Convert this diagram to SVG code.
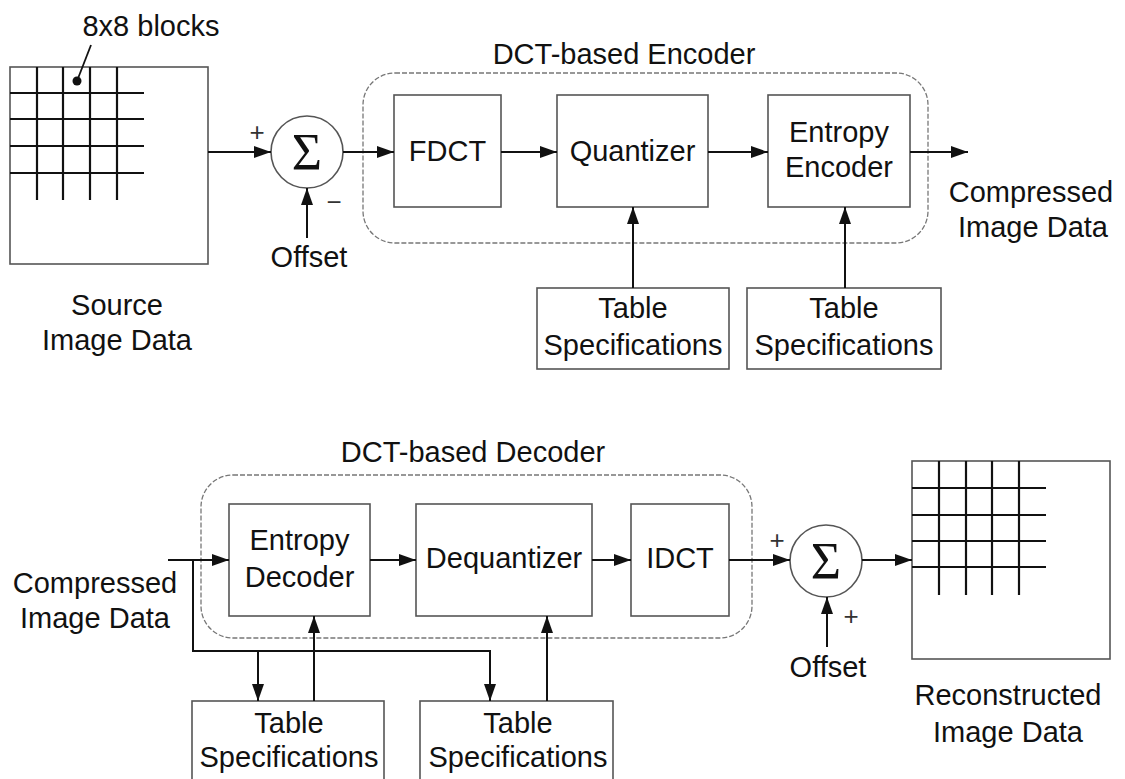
<svg xmlns="http://www.w3.org/2000/svg" width="1125" height="779" viewBox="0 0 1125 779">
<style>
text{font-family:"Liberation Sans",Arial,sans-serif;font-size:29px;fill:#111;text-anchor:middle}
.box{fill:#fff;stroke:#555;stroke-width:1.6}
.grp{fill:none;stroke:#777;stroke-width:1.3;stroke-dasharray:5 2}
.grid{stroke:#111;stroke-width:2.2}
.con{fill:none;stroke:#111;stroke-width:2}
.arr{marker-end:url(#ah)}
.sig{font-family:"Liberation Serif","Times New Roman",serif;font-size:52px}
.sgn{font-size:26px;fill:#333}
</style>
<defs>
<marker id="ah" viewBox="0 0 17 12" refX="17" refY="6" markerWidth="17" markerHeight="12" markerUnits="userSpaceOnUse" orient="auto">
<path d="M0,0 L17,6 L0,12 z" fill="#111"/>
</marker>
</defs>
<rect width="1125" height="779" fill="#fff"/>

<!-- group frames -->
<g id="encoder-frame">
<rect class="grp" x="363" y="73" width="565" height="170" rx="32"/>
<text x="624" y="64">DCT-based Encoder</text>
</g>
<g id="decoder-frame">
<rect class="grp" x="201" y="475" width="551" height="163" rx="32"/>
<text x="473" y="462">DCT-based Decoder</text>
</g>

<!-- Encoder -->
<g id="source-image">
<rect class="box" x="10" y="67" width="198" height="197"/>
<g class="grid">
<line x1="37" y1="67" x2="37" y2="200"/>
<line x1="63" y1="67" x2="63" y2="200"/>
<line x1="90" y1="67" x2="90" y2="200"/>
<line x1="117" y1="67" x2="117" y2="200"/>
<line x1="10" y1="93" x2="144" y2="93"/>
<line x1="10" y1="119" x2="144" y2="119"/>
<line x1="10" y1="146" x2="144" y2="146"/>
<line x1="10" y1="173" x2="144" y2="173"/>
</g>
<circle cx="77" cy="81" r="4.5" fill="#111"/>
<line x1="77" y1="81" x2="91" y2="45" stroke="#111" stroke-width="1.8"/>
<text x="151" y="36">8x8 blocks</text>
<text x="117" y="315">Source</text>
<text x="117" y="350">Image Data</text>
</g>
<g id="sum-enc">
<circle cx="307" cy="152" r="36" fill="#fff" stroke="#555" stroke-width="1.6"/>
<text class="sig" x="307" y="170">Σ</text>
<text class="sgn" x="257" y="141">+</text>
<text class="sgn" x="334" y="211">−</text>
</g>
<g id="offset-enc"><text x="309" y="267">Offset</text></g>
<g id="fdct"><rect class="box" x="394" y="95" width="107" height="112"/><text x="447.5" y="161">FDCT</text></g>
<g id="quantizer"><rect class="box" x="557" y="95" width="151" height="112"/><text x="632.5" y="161">Quantizer</text></g>
<g id="entropy-encoder"><rect class="box" x="768" y="95" width="142" height="112"/><text x="839" y="142">Entropy</text><text x="839" y="177">Encoder</text></g>
<g id="compressed-out"><text x="1031" y="202">Compressed</text><text x="1033" y="237">Image Data</text></g>
<g id="table-q-enc"><rect class="box" x="537" y="288" width="192" height="81"/><text x="633" y="318">Table</text><text x="633" y="355">Specifications</text></g>
<g id="table-h-enc"><rect class="box" x="747" y="288" width="194" height="81"/><text x="844" y="318">Table</text><text x="844" y="355">Specifications</text></g>

<!-- Decoder -->
<g id="compressed-in"><text x="95" y="593">Compressed</text><text x="95" y="628">Image Data</text></g>
<g id="entropy-decoder"><rect class="box" x="229" y="504" width="141" height="112"/><text x="299.5" y="550">Entropy</text><text x="299.5" y="587">Decoder</text></g>
<g id="dequantizer"><rect class="box" x="416" y="504" width="176" height="112"/><text x="504" y="568">Dequantizer</text></g>
<g id="idct"><rect class="box" x="631" y="504" width="98" height="112"/><text x="680" y="568">IDCT</text></g>
<g id="sum-dec">
<circle cx="826" cy="561" r="36" fill="#fff" stroke="#555" stroke-width="1.6"/>
<text class="sig" x="826" y="579">Σ</text>
<text class="sgn" x="777" y="549">+</text>
<text class="sgn" x="851" y="625">+</text>
</g>
<g id="offset-dec"><text x="828" y="677">Offset</text></g>
<g id="reconstructed-image">
<rect class="box" x="912" y="461" width="198" height="198"/>
<g class="grid">
<line x1="939" y1="461" x2="939" y2="595"/>
<line x1="966" y1="461" x2="966" y2="595"/>
<line x1="992" y1="461" x2="992" y2="595"/>
<line x1="1019" y1="461" x2="1019" y2="595"/>
<line x1="912" y1="488" x2="1046" y2="488"/>
<line x1="912" y1="515" x2="1046" y2="515"/>
<line x1="912" y1="541" x2="1046" y2="541"/>
<line x1="912" y1="567" x2="1046" y2="567"/>
</g>
<text x="1008" y="705">Reconstructed</text>
<text x="1008" y="742">Image Data</text>
</g>
<g id="table-h-dec"><rect class="box" x="192" y="701" width="192" height="100"/><text x="289" y="733">Table</text><text x="289" y="767">Specifications</text></g>
<g id="table-q-dec"><rect class="box" x="420" y="701" width="193" height="100"/><text x="518" y="733">Table</text><text x="518" y="767">Specifications</text></g>

<!-- connectors -->
<g id="connectors" class="con">
<line class="arr" x1="208" y1="152" x2="271" y2="152"/>
<line class="arr" x1="343" y1="152" x2="394" y2="152"/>
<line class="arr" x1="501" y1="152" x2="557" y2="152"/>
<line class="arr" x1="708" y1="152" x2="768" y2="152"/>
<line class="arr" x1="910" y1="152" x2="968" y2="152"/>
<line class="arr" x1="307" y1="238" x2="307" y2="188"/>
<line class="arr" x1="633" y1="288" x2="633" y2="207"/>
<line class="arr" x1="845" y1="288" x2="845" y2="207"/>

<line class="arr" x1="168" y1="560" x2="229" y2="560"/>
<path class="arr" d="M193,560 V651 H490 V701"/>
<line class="arr" x1="258" y1="651" x2="258" y2="701"/>
<line class="arr" x1="314" y1="701" x2="314" y2="616"/>
<line class="arr" x1="547" y1="701" x2="547" y2="616"/>
<line class="arr" x1="370" y1="560" x2="416" y2="560"/>
<line class="arr" x1="592" y1="560" x2="631" y2="560"/>
<line class="arr" x1="729" y1="560" x2="790" y2="560"/>
<line class="arr" x1="862" y1="560" x2="912" y2="560"/>
<line class="arr" x1="827" y1="647" x2="827" y2="597"/>
</g>
</svg>
